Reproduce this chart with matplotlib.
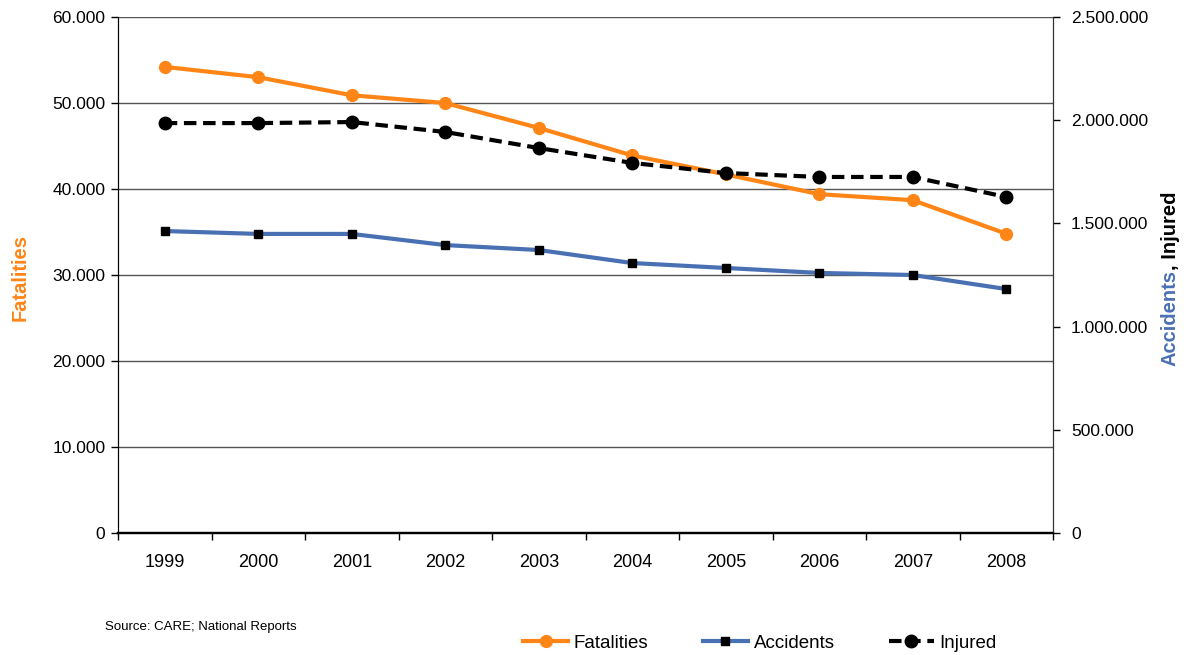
import matplotlib
matplotlib.use('Agg')
import matplotlib.pyplot as plt
from matplotlib.ticker import FuncFormatter, FixedLocator
import numpy as np

plt.rcParams['font.family'] = ['Liberation Sans', 'DejaVu Sans']

# ---- data ----
years = ['1999', '2000', '2001', '2002', '2003', '2004', '2005', '2006', '2007', '2008']
fatalities = [54200, 53000, 50900, 50000, 47100, 43900, 41700, 39400, 38700, 34800]
accidents = [1463000, 1449000, 1449000, 1395000, 1371000, 1308000, 1284000, 1260000, 1250000, 1182000]
injured = [1986000, 1986000, 1991000, 1943000, 1865000, 1793000, 1744000, 1725000, 1725000, 1628000]

ORANGE = '#FF8517'
BLUE = '#4A70B4'

def dotfmt(v, pos=None):
    return f'{int(round(v)):,}'.replace(',', '.')

fig = plt.figure(figsize=(11.88, 6.55), dpi=100)
ax = fig.add_axes([118 / 1188, 1 - 533 / 655, 935 / 1188, 516 / 655])
ax2 = ax.twinx()

x = np.arange(len(years))

ax.plot(x, fatalities, color=ORANGE, lw=3, marker='o', ms=8.5,
        label='Fatalities', zorder=3)
ax2.plot(x, accidents, color=BLUE, lw=3, marker='s', ms=6,
         mfc='black', mec='black', label='Accidents', zorder=3)
ax2.plot(x, injured, color='black', lw=3, ls=(0, (3, 1.6)), marker='o', ms=9,
         label='Injured', zorder=4)

# ---- axes ----
ax.set_xlim(-0.5, len(years) - 0.5)
ax.set_ylim(0, 60000)
ax.set_yticks(np.arange(0, 60001, 10000))
ax.yaxis.set_major_formatter(FuncFormatter(dotfmt))
ax2.set_ylim(0, 2500000)
ax2.set_yticks(np.arange(0, 2500001, 500000))
ax2.yaxis.set_major_formatter(FuncFormatter(dotfmt))

ax.set_xticks(x)
ax.set_xticklabels(years)
ax.xaxis.set_minor_locator(FixedLocator(np.arange(-0.5, len(years), 1.0)))
ax.tick_params(axis='x', which='major', length=0, pad=15, labelsize=13)
ax.tick_params(axis='x', which='minor', length=5, width=1, direction='out')
ax.tick_params(axis='y', length=5, width=1, direction='out', labelsize=12.5, pad=4)
ax2.tick_params(axis='y', length=5, width=1, direction='out', labelsize=12.5, pad=8)

ax.grid(axis='y', color='#555555', lw=1)
ax.set_axisbelow(True)
ax.spines['top'].set_visible(False)
ax2.spines['top'].set_visible(False)
ax.spines['bottom'].set_linewidth(1.6)
ax2.spines['bottom'].set_linewidth(1.6)
ax.spines['left'].set_color('#333333')
ax2.spines['right'].set_color('#333333')

fig.text(20 / 1188, 1 - 277 / 655, 'Fatalities', rotation=90, color=ORANGE,
         fontsize=14.5, fontweight='bold', ha='center', va='center')

# right y label with two colours
t1 = fig.text(1170 / 1188, 1 - 366 / 655, 'Accidents', rotation=90, color=BLUE,
              fontsize=14.5, fontweight='bold', ha='center', va='bottom')
fig.canvas.draw()
bb = t1.get_window_extent()
top_y = bb.y1 / fig.bbox.height
fig.text(1170 / 1188, top_y, ', Injured', rotation=90, color='black',
         fontsize=14.5, fontweight='bold', ha='center', va='bottom')

# ---- legend & source ----
h1, l1 = ax.get_legend_handles_labels()
h2, l2 = ax2.get_legend_handles_labels()
fig.legend(h1 + h2, l1 + l2, loc='center', bbox_to_anchor=(760 / 1188, 1 - 643 / 655),
           ncol=3, frameon=False, fontsize=13.5, handlelength=2.4,
           handletextpad=0.3, columnspacing=2.9)
fig.text(105 / 1188, 1 - 627 / 655, 'Source: CARE; National Reports',
         fontsize=9.5, ha='left', va='center')

fig.savefig('out.png', dpi=100, facecolor='white')
plt.close(fig)
